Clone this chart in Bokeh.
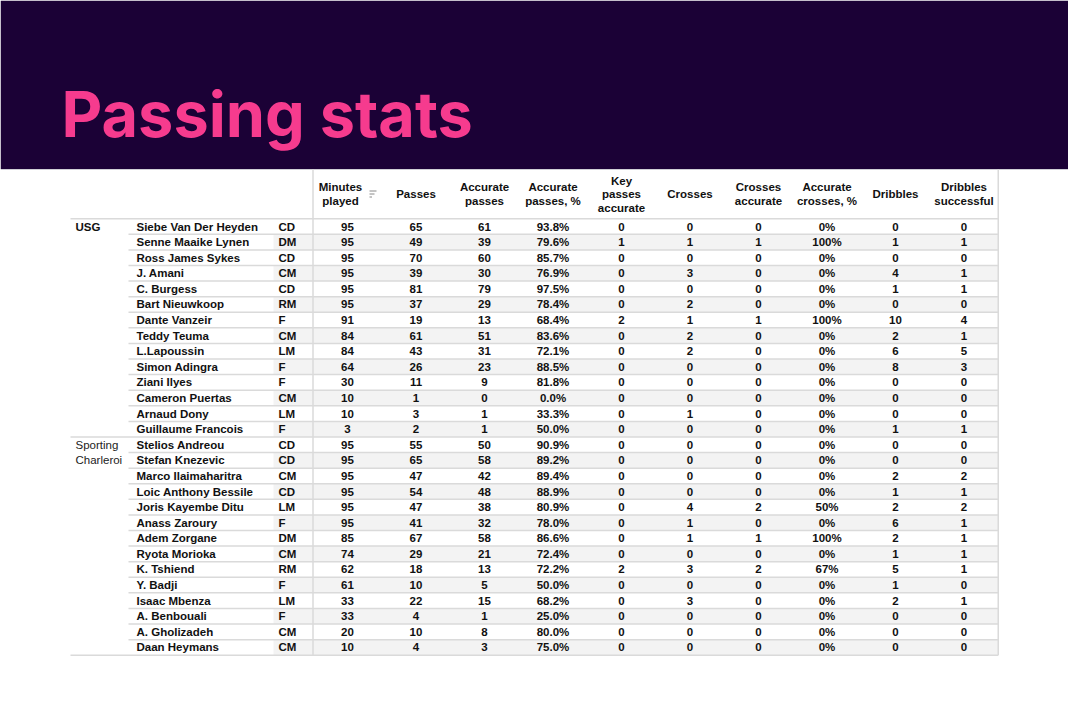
from bokeh.plotting import figure
from bokeh.models import Range1d, ColumnDataSource
from bokeh.core.properties import value
from bokeh.embed import file_html
from bokeh.resources import INLINE

# ---------------- data ----------------
title = "Passing stats"
teams = ["USG", "Sporting\nCharleroi"]
team_sizes = [14, 14]
players = ["Siebe Van Der Heyden", "Senne Maaike Lynen", "Ross James Sykes", "J. Amani",
           "C. Burgess", "Bart Nieuwkoop", "Dante Vanzeir", "Teddy Teuma", "L.Lapoussin",
           "Simon Adingra", "Ziani Ilyes", "Cameron Puertas", "Arnaud Dony", "Guillaume Francois",
           "Stelios Andreou", "Stefan Knezevic", "Marco Ilaimaharitra", "Loic Anthony Bessile",
           "Joris Kayembe Ditu", "Anass Zaroury", "Adem Zorgane", "Ryota Morioka", "K. Tshiend",
           "Y. Badji", "Isaac Mbenza", "A. Benbouali", "A. Gholizadeh", "Daan Heymans"]
positions = ["CD", "DM", "CD", "CM", "CD", "RM", "F", "CM", "LM", "F", "F", "CM", "LM", "F",
             "CD", "CD", "CM", "CD", "LM", "F", "DM", "CM", "RM", "F", "LM", "F", "CM", "CM"]
minutes = [95, 95, 95, 95, 95, 95, 91, 84, 84, 64, 30, 10, 10, 3,
           95, 95, 95, 95, 95, 95, 85, 74, 62, 61, 33, 33, 20, 10]
passes = [65, 49, 70, 39, 81, 37, 19, 61, 43, 26, 11, 1, 3, 2,
          55, 65, 47, 54, 47, 41, 67, 29, 18, 10, 22, 4, 10, 4]
acc_passes = [61, 39, 60, 30, 79, 29, 13, 51, 31, 23, 9, 0, 1, 1,
              50, 58, 42, 48, 38, 32, 58, 21, 13, 5, 15, 1, 8, 3]
acc_passes_pct = [93.8, 79.6, 85.7, 76.9, 97.5, 78.4, 68.4, 83.6, 72.1, 88.5, 81.8, 0.0, 33.3, 50.0,
                  90.9, 89.2, 89.4, 88.9, 80.9, 78.0, 86.6, 72.4, 72.2, 50.0, 68.2, 25.0, 80.0, 75.0]
key_passes = [0, 1, 0, 0, 0, 0, 2, 0, 0, 0, 0, 0, 0, 0,
              0, 0, 0, 0, 0, 0, 0, 0, 2, 0, 0, 0, 0, 0]
crosses = [0, 1, 0, 3, 0, 2, 1, 2, 2, 0, 0, 0, 1, 0,
           0, 0, 0, 0, 4, 1, 1, 0, 3, 0, 3, 0, 0, 0]
crosses_acc = [0, 1, 0, 0, 0, 0, 1, 0, 0, 0, 0, 0, 0, 0,
               0, 0, 0, 0, 2, 0, 1, 0, 2, 0, 0, 0, 0, 0]
crosses_pct = [0, 100, 0, 0, 0, 0, 100, 0, 0, 0, 0, 0, 0, 0,
               0, 0, 0, 0, 50, 0, 100, 0, 67, 0, 0, 0, 0, 0]
dribbles = [0, 1, 0, 4, 1, 0, 10, 2, 6, 8, 0, 0, 0, 1,
            0, 0, 2, 1, 2, 6, 2, 1, 5, 1, 2, 0, 0, 0]
dribbles_succ = [0, 1, 0, 1, 1, 0, 4, 1, 5, 3, 0, 0, 0, 1,
                 0, 0, 2, 1, 2, 1, 1, 1, 1, 0, 1, 0, 0, 0]
headers = [["Minutes", "played"], ["Passes"], ["Accurate", "passes"], ["Accurate", "passes, %"],
           ["Key", "passes", "accurate"], ["Crosses"], ["Crosses", "accurate"],
           ["Accurate", "crosses, %"], ["Dribbles"], ["Dribbles", "successful"]]

columns = [
    [str(v) for v in minutes],
    [str(v) for v in passes],
    [str(v) for v in acc_passes],
    [f"{v:.1f}%" for v in acc_passes_pct],
    [str(v) for v in key_passes],
    [str(v) for v in crosses],
    [str(v) for v in crosses_acc],
    [f"{v:.0f}%" for v in crosses_pct],
    [str(v) for v in dribbles],
    [str(v) for v in dribbles_succ],
]

# ---------------- layout ----------------
W, H = 1068, 700
BG = "#1b0136"
PINK = "#f63b8e"
LINE = "#dadada"
STRIPE = "#f3f3f3"
FONT = value("Liberation Sans")
FS = "11.5px"

n = len(players)
row0, row_h = 226.0, 15.59
row_y = [row0 + row_h * i for i in range(n)]
col0, col_w = 347.0, 68.5
col_x = [col0 + col_w * k for k in range(len(columns))]
tab_left, name_x, pos_x, grid_x = 75, 136, 278, 312.5
right_x = col_x[-1] + col_w / 2
top_y, head_y = 169, 193.5
head_bottom = row_y[0] - row_h / 2
table_bottom = row_y[-1] + row_h / 2

p = figure(width=W, height=H, x_range=Range1d(0, W), y_range=Range1d(H, 0),
           output_backend="svg", toolbar_location=None, min_border=0)
p.xaxis.visible = False
p.yaxis.visible = False
p.grid.visible = False
p.outline_line_color = None
p.background_fill_color = "white"
p.border_fill_color = "white"

# header band + title
p.quad(left=[0], right=[W], top=[0], bottom=[top_y - 0.5], fill_color=BG, line_color=None)
p.text(x=[61], y=[113], text=[title], text_font=value("Inter"), text_font_style="bold",
       text_font_size="63px", text_color=PINK, text_baseline="middle")

# stripes
odd = [i for i in range(n) if i % 2 == 1]
p.quad(left=[pos_x - 5] * len(odd), right=[right_x] * len(odd),
       top=[row_y[i] - row_h / 2 for i in odd], bottom=[row_y[i] + row_h / 2 for i in odd],
       fill_color=STRIPE, line_color=None)

# horizontal row lines
starts = []
cum = 0
for s in team_sizes:
    starts.append(cum)
    cum += s
hx0, hx1, hy = [], [], []
for i in range(1, n):
    hx0.append(tab_left - 5 if i in starts else name_x - 8)
    hx1.append(right_x)
    hy.append(row_y[i] - row_h / 2)
hx0 += [tab_left - 5, tab_left - 5]
hx1 += [right_x, right_x]
hy += [head_bottom, table_bottom]
p.segment(x0=hx0, y0=hy, x1=hx1, y1=hy, line_color=LINE, line_width=1.5)
p.segment(x0=[0], y0=[top_y], x1=[W], y1=[top_y], line_color="#cfcfd6", line_width=1)

# vertical lines
p.segment(x0=[grid_x, right_x], y0=[top_y, top_y], x1=[grid_x, right_x],
          y1=[table_bottom, table_bottom], line_color=LINE, line_width=1.5)

# column headers
hx, hyy, ht = [], [], []
lh = 13.5
for k, lines in enumerate(headers):
    cx = col_x[k] - 7 if k == 0 else col_x[k]
    m = len(lines)
    for j, t in enumerate(lines):
        hx.append(cx)
        hyy.append(head_y + (j - (m - 1) / 2) * lh)
        ht.append(t)
p.text(x=hx, y=hyy, text=ht, text_font=FONT, text_font_style="bold", text_font_size=FS,
       text_color="#111111", text_align="center", text_baseline="middle")

# sort icon next to "Minutes played"
sx = col_x[0] + 22
p.segment(x0=[sx, sx, sx], y0=[head_y - 3, head_y, head_y + 3],
          x1=[sx + 7, sx + 5, sx + 2.5], y1=[head_y - 3, head_y, head_y + 3],
          line_color="#8a8a8a", line_width=1)

# team labels
p.text(x=[tab_left], y=[row_y[starts[0]]], text=[teams[0]], text_font=FONT,
       text_font_style="bold", text_font_size=FS, text_color="#111111", text_baseline="middle")
tl = teams[1].split("\n")
p.text(x=[tab_left] * len(tl), y=[row_y[starts[1]] + j * row_h for j in range(len(tl))], text=tl,
       text_font=FONT, text_font_size=FS, text_color="#222222", text_baseline="middle")

# names and positions
p.text(x=[name_x] * n, y=row_y, text=players, text_font=FONT, text_font_style="bold",
       text_font_size=FS, text_color="#111111", text_baseline="middle")
p.text(x=[pos_x] * n, y=row_y, text=positions, text_font=FONT, text_font_style="bold",
       text_font_size=FS, text_color="#111111", text_baseline="middle")

# cell values
cx, cy, ct = [], [], []
for k, col in enumerate(columns):
    for i, t in enumerate(col):
        cx.append(col_x[k])
        cy.append(row_y[i])
        ct.append(t)
src = ColumnDataSource(dict(x=cx, y=cy, text=ct))
p.text(x="x", y="y", text="text", source=src, text_font=FONT, text_font_style="bold",
       text_font_size=FS, text_color="#111111", text_align="center", text_baseline="middle")

open("out.html", "w").write(file_html(p, INLINE))
